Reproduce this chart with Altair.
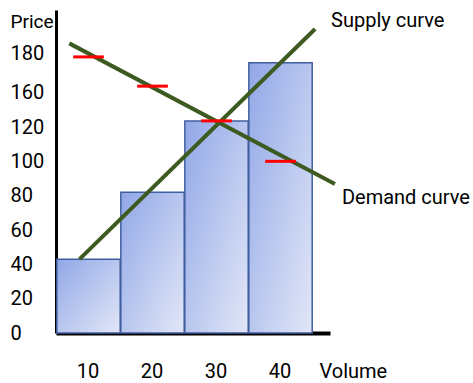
import altair as alt
import pandas as pd

# Quantity bins and the price paid in each
volume = [10, 20, 30, 40]
bar_price = [43, 82, 127, 175]
# Observed market price per bin (red markers)
tick_price = [178, 163, 127, 100]

# End points of the two straight curves
supply_volume = [8.6, 45.4]
supply_price = [43, 189.5]
demand_volume = [7.0, 48.5]
demand_price = [183.8, 86.8]

x_ticks = [10, 20, 30, 40]
y_ticks = [0, 20, 40, 60, 80, 100, 120, 160, 180]

FONT = "Roboto"
FS = 20
HALF_BAR = 4.95
HALF_TICK = 2.4

bars = pd.DataFrame({"volume": volume, "price": bar_price})
bars["left"] = bars["volume"] - HALF_BAR
bars["right"] = bars["volume"] + HALF_BAR

ticks = pd.DataFrame({"volume": volume, "price": tick_price})
ticks["left"] = ticks["volume"] - HALF_TICK
ticks["right"] = ticks["volume"] + HALF_TICK

supply = pd.DataFrame({"volume": supply_volume, "price": supply_price})
demand = pd.DataFrame({"volume": demand_volume, "price": demand_price})

x_scale = alt.Scale(domain=[4.92, 47.73], nice=False, zero=False)
# Price axis: evenly spaced labels, with no step drawn for 140
y_scale = alt.Scale(domain=[0, 120, 160, 180, 197],
                    range=[323, 117, 82, 43, 0], nice=False, zero=False)

x_axis = alt.Axis(values=x_ticks, grid=False, ticks=False, tickSize=0,
                  domainColor="black", domainWidth=4,
                  labelFont=FONT, labelFontSize=FS, labelColor="black",
                  labelPadding=44, labelBaseline="alphabetic", labelOffset=-1,
                  title="Volume", titleFont=FONT, titleFontSize=FS,
                  titleFontWeight="normal", titleColor="black",
                  titleX=263, titleY=44, titleAlign="left",
                  titleBaseline="alphabetic", titleAngle=0)
y_axis = alt.Axis(values=y_ticks, grid=False, ticks=False, tickSize=0,
                  domainColor="black", domainWidth=3,
                  labelFont=FONT, labelFontSize=FS, labelColor="black",
                  labelAlign="left", labelPadding=46, labelBaseline="middle",
                  title="Price", titleFont=FONT, titleFontSize=19,
                  titleFontWeight="normal", titleColor="black",
                  titleX=-46, titleY=17, titleAlign="left",
                  titleBaseline="alphabetic", titleAngle=0)

fill = alt.Gradient(
    gradient="linear",
    stops=[alt.GradientStop(color="#91a7e7", offset=0),
           alt.GradientStop(color="#e2e7f7", offset=1)],
    x1=0, y1=0, x2=1, y2=1,
)

bar_layer = alt.Chart(bars).mark_bar(
    fill=fill, stroke="#3f5f9e", strokeWidth=1.5
).encode(
    x=alt.X("left:Q", scale=x_scale, axis=x_axis),
    x2="right:Q",
    y=alt.Y("price:Q", scale=y_scale, axis=y_axis),
    y2=alt.datum(0),
)

line_color = "#3d5a20"
supply_layer = alt.Chart(supply).mark_line(
    color=line_color, strokeWidth=4, clip=False
).encode(x=alt.X("volume:Q", scale=x_scale), y=alt.Y("price:Q", scale=y_scale))

demand_layer = alt.Chart(demand).mark_line(
    color=line_color, strokeWidth=4, clip=False
).encode(x=alt.X("volume:Q", scale=x_scale), y=alt.Y("price:Q", scale=y_scale))

tick_layer = alt.Chart(ticks).mark_rule(
    color="#ff0000", strokeWidth=3
).encode(x=alt.X("left:Q", scale=x_scale), x2="right:Q",
         y=alt.Y("price:Q", scale=y_scale))

supply_label = alt.Chart(supply.tail(1).assign(label="Supply curve")).mark_text(
    font=FONT, fontSize=FS, color="black", align="left",
    baseline="alphabetic", dx=16, dy=-2
).encode(x=alt.X("volume:Q", scale=x_scale), y=alt.Y("price:Q", scale=y_scale),
         text="label:N")

demand_label = alt.Chart(demand.tail(1).assign(label="Demand curve")).mark_text(
    font=FONT, fontSize=FS, color="black", align="left",
    baseline="alphabetic", dx=7, dy=20
).encode(x=alt.X("volume:Q", scale=x_scale), y=alt.Y("price:Q", scale=y_scale),
         text="label:N")

chart = alt.layer(
    bar_layer, supply_layer, demand_layer, tick_layer, supply_label, demand_label
).properties(
    width=274, height=323,
    autosize=alt.AutoSizeParams(type="none"),
    padding={"left": 56, "top": 10, "right": 143, "bottom": 50},
    background="white",
).configure_view(stroke=None)

chart.save("out.html", embed_options={"renderer": "svg", "actions": False})
